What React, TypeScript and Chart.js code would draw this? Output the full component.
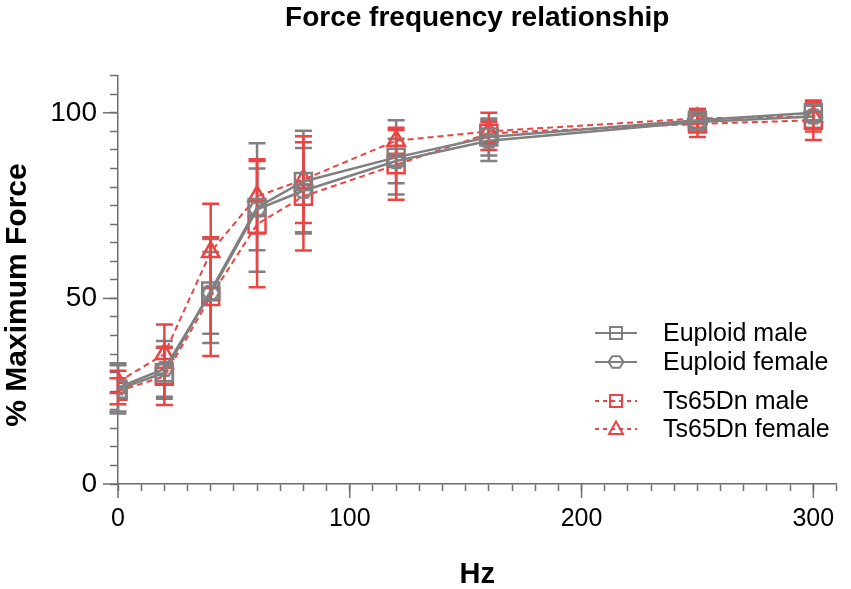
import React, { useEffect, useRef } from "react";
import { Chart, registerables } from "chart.js";

Chart.register(...registerables);

// stimulation frequency (Hz)
const hz = [0, 20, 40, 60, 80, 120, 160, 250, 300];

// % of maximum force, mean and error per group
const euploidMale = [25.5, 30, 52, 74.5, 81.5, 88, 93.5, 98, 100];
const euploidMaleErr = [6.5, 7, 14, 17.3, 13.7, 10, 5, 3, 2];
const euploidFemale = [26, 31, 51.5, 74, 79, 87, 92.5, 97.5, 99];
const euploidFemaleErr = [6.5, 7.5, 11, 11, 11.5, 6, 5.5, 2.5, 3];
const ts65dnMale = [25, 29, 50.5, 70, 77.5, 86, 94.5, 97, 98];
const ts65dnMaleErr = [3.5, 7.7, 16, 17, 14.6, 9.4, 3, 3.5, 5.3];
const ts65dnFemale = [27.5, 35, 62.5, 77.5, 82, 92.5, 95, 98.5, 99];
const ts65dnFemaleErr = [3, 8, 13, 10, 11.7, 3.5, 5, 2.5, 4];

const seriesNames = ["Euploid male", "Euploid female", "Ts65Dn male", "Ts65Dn female"];
const xTickLabels = [0, 100, 200, 300];
const yTickLabels = [0, 50, 100];

const GREY = "#808080";
const RED = "#ec4343";
const AXIS = "#6e6e6e";
const FONT = "'Liberation Sans', Arial, sans-serif";

function hexPath(ctx: CanvasRenderingContext2D, cx: number, cy: number, r: number) {
    ctx.beginPath();
    for (let i = 0; i < 6; i++) {
        const a = (Math.PI / 3) * i;
        const px = cx + r * Math.cos(a);
        const py = cy + r * Math.sin(a) * 0.9;
        if (i === 0) ctx.moveTo(px, py);
        else ctx.lineTo(px, py);
    }
    ctx.closePath();
}

function makeHexagon(r: number, color: string, lw: number) {
    const c = document.createElement("canvas");
    c.width = Math.ceil(r * 2 + lw * 2 + 2);
    c.height = c.width;
    const ctx = c.getContext("2d")!;
    ctx.strokeStyle = color;
    ctx.lineWidth = lw;
    hexPath(ctx, c.width / 2, c.height / 2, r);
    ctx.stroke();
    return c;
}

const toPoints = (ys: number[]) => ys.map((y, i) => ({ x: hz[i], y }));

// vertical error bars with caps, drawn under the lines
const errorBars = {
    id: "errorBars",
    beforeDatasetsDraw(chart: any) {
        const { ctx, scales: { x, y } } = chart;
        chart.data.datasets.forEach((ds: any) => {
            ctx.save();
            ctx.strokeStyle = ds.borderColor;
            ctx.lineWidth = 2.5;
            ds.data.forEach((p: any, j: number) => {
                const e = ds.errors[j];
                const px = x.getPixelForValue(p.x);
                const top = y.getPixelForValue(p.y + e);
                const bot = y.getPixelForValue(p.y - e);
                ctx.beginPath();
                ctx.moveTo(px, top);
                ctx.lineTo(px, bot);
                ctx.moveTo(px - 8.5, top);
                ctx.lineTo(px + 8.5, top);
                ctx.moveTo(px - 8.5, bot);
                ctx.lineTo(px + 8.5, bot);
                ctx.stroke();
            });
            ctx.restore();
        });
    },
};

// title, long major ticks, rotated y title and the in-plot legend
const decorations = {
    id: "decorations",
    afterDraw(chart: any) {
        const { ctx, scales: { x, y }, chartArea } = chart;
        ctx.save();
        ctx.fillStyle = "#000";
        ctx.font = `bold 28px ${FONT}`;
        ctx.textAlign = "center";
        ctx.textBaseline = "middle";
        ctx.fillText("Force frequency relationship", (chartArea.left + chartArea.right) / 2, 18);

        ctx.strokeStyle = AXIS;
        ctx.lineWidth = 1.5;
        xTickLabels.forEach((v) => {
            const px = x.getPixelForValue(v);
            ctx.beginPath();
            ctx.moveTo(px, chartArea.bottom);
            ctx.lineTo(px, chartArea.bottom + 14);
            ctx.stroke();
        });
        yTickLabels.forEach((v) => {
            const py = y.getPixelForValue(v);
            ctx.beginPath();
            ctx.moveTo(chartArea.left - 15, py);
            ctx.lineTo(chartArea.left, py);
            ctx.stroke();
        });

        ctx.font = `bold 30px ${FONT}`;
        ctx.translate(18, 295);
        ctx.rotate(-Math.PI / 2);
        ctx.fillText("% Maximum Force", 0, 0);
        ctx.restore();

        const rows = [333, 362, 401, 429];
        chart.data.datasets.forEach((ds: any, i: number) => {
            const ry = rows[i];
            ctx.save();
            ctx.strokeStyle = ds.borderColor;
            ctx.lineWidth = 2;
            ctx.setLineDash(ds.borderDash ? [4, 4] : []);
            ctx.beginPath();
            ctx.moveTo(595, ry);
            ctx.lineTo(637, ry);
            ctx.stroke();
            ctx.setLineDash([]);
            ctx.beginPath();
            if (ds.legendShape === "rect") {
                ctx.rect(610, ry - 6, 12, 12);
            } else if (ds.legendShape === "hex") {
                hexPath(ctx, 616, ry, 7.5);
            } else {
                ctx.moveTo(616, ry - 7.5);
                ctx.lineTo(623, ry + 5);
                ctx.lineTo(609, ry + 5);
                ctx.closePath();
            }
            ctx.stroke();
            ctx.fillStyle = "#000";
            ctx.font = `25px ${FONT}`;
            ctx.textAlign = "left";
            ctx.textBaseline = "middle";
            ctx.fillText(ds.label, 663, ry + 1);
            ctx.restore();
        });
    },
};

const App = () => {
    const canvasRef = useRef<HTMLCanvasElement | null>(null);

    useEffect(() => {
        const ctx = canvasRef.current?.getContext("2d");
        if (!ctx) return;

        const hexagon = makeHexagon(8.5, GREY, 2.5);
        const common = {
            borderWidth: 2.5,
            pointBorderWidth: 2.5,
            pointBackgroundColor: "rgba(0,0,0,0)",
            tension: 0,
        };

        const chart = new Chart(ctx, {
            type: "line",
            data: {
                datasets: [
                    {
                        ...common,
                        label: seriesNames[0],
                        data: toPoints(euploidMale),
                        errors: euploidMaleErr,
                        borderColor: GREY,
                        pointBorderColor: GREY,
                        pointStyle: "rect",
                        pointRadius: 12,
                        legendShape: "rect",
                    },
                    {
                        ...common,
                        label: seriesNames[1],
                        data: toPoints(euploidFemale),
                        errors: euploidFemaleErr,
                        borderColor: GREY,
                        pointBorderColor: GREY,
                        pointStyle: hexagon,
                        pointRadius: 9,
                        legendShape: "hex",
                    },
                    {
                        ...common,
                        label: seriesNames[2],
                        data: toPoints(ts65dnMale),
                        errors: ts65dnMaleErr,
                        borderColor: RED,
                        borderWidth: 2,
                        borderDash: [6, 4],
                        pointBorderColor: RED,
                        pointStyle: "rect",
                        pointRadius: 12,
                        legendShape: "rect",
                    },
                    {
                        ...common,
                        label: seriesNames[3],
                        data: toPoints(ts65dnFemale),
                        errors: ts65dnFemaleErr,
                        borderColor: RED,
                        borderWidth: 2,
                        borderDash: [6, 4],
                        pointBorderColor: RED,
                        pointStyle: "triangle",
                        pointRadius: 10,
                        legendShape: "triangle",
                    },
                ] as any,
            },
            options: {
                animation: false,
                responsive: true,
                maintainAspectRatio: false,
                layout: { padding: { left: 0, right: 7, top: 75.7, bottom: 0 } },
                plugins: {
                    legend: { display: false },
                    tooltip: { enabled: false },
                    title: { display: false },
                },
                scales: {
                    x: {
                        type: "linear",
                        min: 0,
                        max: 310,
                        afterFit: (s: any) => {
                            s.height = 105;
                        },
                        ticks: {
                            stepSize: 10,
                            autoSkip: false,
                            maxRotation: 0,
                            padding: 13,
                            color: "#000",
                            font: { family: FONT, size: 25 },
                            callback: (v: any) => (xTickLabels.includes(Math.round(v)) ? String(Math.round(v)) : ""),
                        },
                        grid: { drawOnChartArea: false, tickLength: 7, tickColor: AXIS, tickWidth: 1.5 },
                        border: { color: AXIS, width: 1.5 },
                        title: {
                            display: true,
                            text: "Hz",
                            color: "#000",
                            font: { family: FONT, size: 29, weight: "bold", lineHeight: 1 },
                            padding: { top: 0, bottom: 0 },
                        },
                    },
                    y: {
                        type: "linear",
                        min: 0,
                        max: 110,
                        afterFit: (s: any) => {
                            s.width = 118;
                        },
                        ticks: {
                            stepSize: 5,
                            autoSkip: false,
                            padding: 13,
                            color: "#000",
                            font: { family: FONT, size: 28 },
                            callback: (v: any) => (yTickLabels.includes(Math.round(v)) ? String(Math.round(v)) : ""),
                        },
                        grid: { drawOnChartArea: false, tickLength: 8, tickColor: AXIS, tickWidth: 1.5 },
                        border: { color: AXIS, width: 1.5 },
                    },
                },
            } as any,
            plugins: [errorBars, decorations],
        });

        return () => {
            chart.destroy();
        };
    }, []);

    return (
        <div style={{ position: "fixed", left: 0, top: 0, width: 851, height: 589, background: "#fff" }}>
            <canvas ref={canvasRef} />
        </div>
    );
};

export default App;
